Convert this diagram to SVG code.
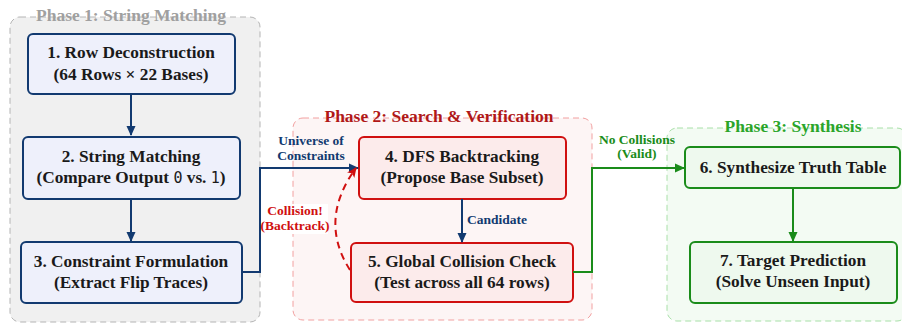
<svg xmlns="http://www.w3.org/2000/svg" width="902" height="325" viewBox="0 0 902 325">
<defs>
<marker id="aBlue" markerWidth="10" markerHeight="10" refX="9" refY="5" orient="auto" markerUnits="userSpaceOnUse"><path d="M0,0.5 L10,5 L0,9.5 Z" fill="#123a70"/></marker>
<marker id="aRed" markerWidth="10" markerHeight="10" refX="9" refY="5" orient="auto" markerUnits="userSpaceOnUse"><path d="M0,0.5 L10,5 L0,9.5 L2.5,5 Z" fill="#d01010"/></marker>
<marker id="aGreen" markerWidth="10" markerHeight="10" refX="9" refY="5" orient="auto" markerUnits="userSpaceOnUse"><path d="M0,0.5 L10,5 L0,9.5 Z" fill="#1a8c1a"/></marker>
</defs>
<style>
text{font-family:"Liberation Serif","Times New Roman",serif;font-weight:bold;text-anchor:middle}
.nt{font-size:17.3px;fill:#1a1a1a}
.ptitle{font-size:17.5px}
.lbl{font-size:13.5px}
.mono{font-family:"DejaVu Sans Mono",monospace;font-weight:normal;font-size:15px}
.bn{fill:#eef0fb;stroke:#123a70;stroke-width:2}
.rn{fill:#fcebeb;stroke:#d01010;stroke-width:2}
.gn{fill:#eef9ee;stroke:#1a8c1a;stroke-width:2}
</style>
<g id="phase1">
<rect x="10" y="17" width="250" height="305" rx="10" fill="#f0f0f0" stroke="#b4b4b4" stroke-width="1" stroke-dasharray="6,4"/>
<text class="ptitle" x="131" y="21" fill="#a0a0a0">Phase 1: String Matching</text>
</g>
<g id="phase2">
<rect x="293" y="118" width="299" height="202" rx="10" fill="#fdf5f5" stroke="#f2a0a0" stroke-width="1" stroke-dasharray="6,4"/>
<text class="ptitle" x="439" y="122" fill="#b01818">Phase 2: Search &amp; Verification</text>
</g>
<g id="phase3">
<rect x="667" y="128" width="240" height="193" rx="10" fill="#f3fbf3" stroke="#a8e0a8" stroke-width="1" stroke-dasharray="6,4"/>
<text class="ptitle" x="793" y="132" fill="#2aa52a">Phase 3: Synthesis</text>
</g>
<g id="node1">
<rect class="bn" x="28" y="34" width="207" height="60" rx="5"/>
<text class="nt" x="131" y="58">1. Row Deconstruction</text>
<text class="nt" x="131" y="80">(64 Rows × 22 Bases)</text>
</g>
<g id="node2">
<rect class="bn" x="23" y="137" width="217" height="62" rx="5"/>
<text class="nt" x="131" y="162">2. String Matching</text>
<text class="nt" x="131" y="183">(Compare Output <tspan class="mono">0</tspan> vs. <tspan class="mono">1</tspan>)</text>
</g>
<g id="node3">
<rect class="bn" x="21" y="242" width="221" height="61" rx="5"/>
<text class="nt" x="131" y="267">3. Constraint Formulation</text>
<text class="nt" x="131" y="288">(Extract Flip Traces)</text>
</g>
<g id="node4">
<rect class="rn" x="359" y="137" width="207" height="62" rx="5"/>
<text class="nt" x="462" y="162">4. DFS Backtracking</text>
<text class="nt" x="462" y="183">(Propose Base Subset)</text>
</g>
<g id="node5">
<rect class="rn" x="351" y="243" width="222" height="59" rx="5"/>
<text class="nt" x="462" y="267">5. Global Collision Check</text>
<text class="nt" x="462" y="288">(Test across all 64 rows)</text>
</g>
<g id="node6">
<rect class="gn" x="685" y="147" width="215" height="41" rx="5"/>
<text class="nt" x="793" y="173">6. Synthesize Truth Table</text>
</g>
<g id="node7">
<rect class="gn" x="690" y="242" width="207" height="61" rx="5"/>
<text class="nt" x="793" y="266">7. Target Prediction</text>
<text class="nt" x="793" y="287">(Solve Unseen Input)</text>
</g>
<g id="connectors" fill="none" stroke-width="2">
<path d="M131,94 L131,135" stroke="#123a70" marker-end="url(#aBlue)"/>
<path d="M131,199 L131,241" stroke="#123a70" marker-end="url(#aBlue)"/>
<path d="M242,272 L260,272 L260,168 L358,168" stroke="#123a70" marker-end="url(#aBlue)"/>
<path d="M462,199 L462,242" stroke="#123a70" marker-end="url(#aBlue)"/>
<path d="M350,270 Q318,220 356,168" stroke="#d01010" stroke-dasharray="7,5" marker-end="url(#aRed)"/>
<path d="M573,272 L592,272 L592,168 L684,168" stroke="#1a8c1a" marker-end="url(#aGreen)"/>
<path d="M793,188 L793,241" stroke="#1a8c1a" marker-end="url(#aGreen)"/>
<rect x="262" y="204" width="66" height="30" fill="#ffffff" stroke="none"/>
<text class="lbl" x="311" y="145" fill="#123a70" stroke="none">Universe of</text>
<text class="lbl" x="311" y="160" fill="#123a70" stroke="none">Constraints</text>
<text class="lbl" x="295" y="215" fill="#d01010" stroke="none">Collision!</text>
<text class="lbl" x="295" y="230" fill="#d01010" stroke="none">(Backtrack)</text>
<text class="lbl" x="467" y="224" fill="#123a70" stroke="none" style="text-anchor:start">Candidate</text>
<text class="lbl" x="637" y="144" fill="#1a8c1a" stroke="none">No Collisions</text>
<text class="lbl" x="637" y="158" fill="#1a8c1a" stroke="none">(Valid)</text>
</g>
</svg>
